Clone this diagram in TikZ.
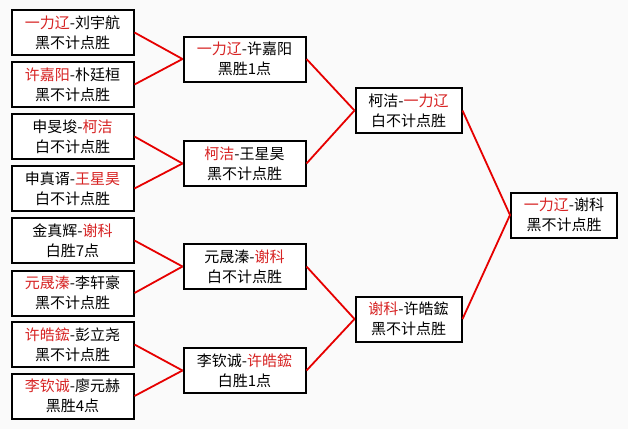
\documentclass[tikz,border=0pt]{standalone}
\usepackage{fontspec}
\setmainfont{Noto Sans CJK SC}
\definecolor{namered}{RGB}{215,35,35}
\definecolor{linered}{RGB}{230,0,0}
\definecolor{bg}{RGB}{250,250,250}
\newcommand{\rn}[1]{{\color{namered}#1}}
\tikzset{
  game/.style={draw=black, line width=2pt, fill=white, inner sep=0pt, align=center,
    minimum height=45pt, font=\fontsize{15}{20}\selectfont},
  r1/.style={game, minimum width=122pt},
  r2/.style={game, minimum width=122pt},
  r3/.style={game, minimum width=106pt},
  conn/.style={draw=linered, line width=1.8pt}
}
\begin{document}
\begin{tikzpicture}[x=1pt,y=-1pt]
\fill[bg] (0,0) rectangle (628,429);
\useasboundingbox (0,0) rectangle (628,429);
% round 1
\node[r1] (a1) at (72.5,32.5) {\rn{一力辽}-刘宇航\\黑不计点胜};
\node[r1] (a2) at (72.5,84.5) {\rn{许嘉阳}-朴廷桓\\黑不计点胜};
\node[r1] (a3) at (72.5,136.5) {申旻埈-\rn{柯洁}\\白不计点胜};
\node[r1] (a4) at (72.5,188.5) {申真谞-\rn{王星昊}\\白不计点胜};
\node[r1] (a5) at (72.5,240.5) {金真辉-\rn{谢科}\\白胜7点};
\node[r1] (a6) at (72.5,293) {\rn{元晟溱}-李轩豪\\黑不计点胜};
\node[r1] (a7) at (72.5,344.5) {\rn{许皓鋐}-彭立尧\\黑不计点胜};
\node[r1] (a8) at (72.5,396) {\rn{李钦诚}-廖元赫\\黑胜4点};
% round 2
\node[r2] (b1) at (244.5,59) {\rn{一力辽}-许嘉阳\\黑胜1点};
\node[r2] (b2) at (244.5,163.5) {\rn{柯洁}-王星昊\\黑不计点胜};
\node[r2] (b3) at (244.5,266.5) {元晟溱-\rn{谢科}\\白不计点胜};
\node[r2] (b4) at (244.5,370.5) {李钦诚-\rn{许皓鋐}\\白胜1点};
% round 3
\node[r3] (c1) at (408.5,110.5) {柯洁-\rn{一力辽}\\白不计点胜};
\node[r3] (c2) at (408.5,319) {\rn{谢科}-许皓鋐\\黑不计点胜};
% final
\node[r3] (d1) at (564,215) {\rn{一力辽}-谢科\\黑不计点胜};
% connectors
\draw[conn] (a1.east) -- (b1.west);
\draw[conn] (a2.east) -- (b1.west);
\draw[conn] (a3.east) -- (b2.west);
\draw[conn] (a4.east) -- (b2.west);
\draw[conn] (a5.east) -- (b3.west);
\draw[conn] (a6.east) -- (b3.west);
\draw[conn] (a7.east) -- (b4.west);
\draw[conn] (a8.east) -- (b4.west);
\draw[conn] (b1.east) -- (c1.west);
\draw[conn] (b2.east) -- (c1.west);
\draw[conn] (b3.east) -- (c2.west);
\draw[conn] (b4.east) -- (c2.west);
\draw[conn] (c1.east) -- (d1.west);
\draw[conn] (c2.east) -- (d1.west);
\end{tikzpicture}
\end{document}
